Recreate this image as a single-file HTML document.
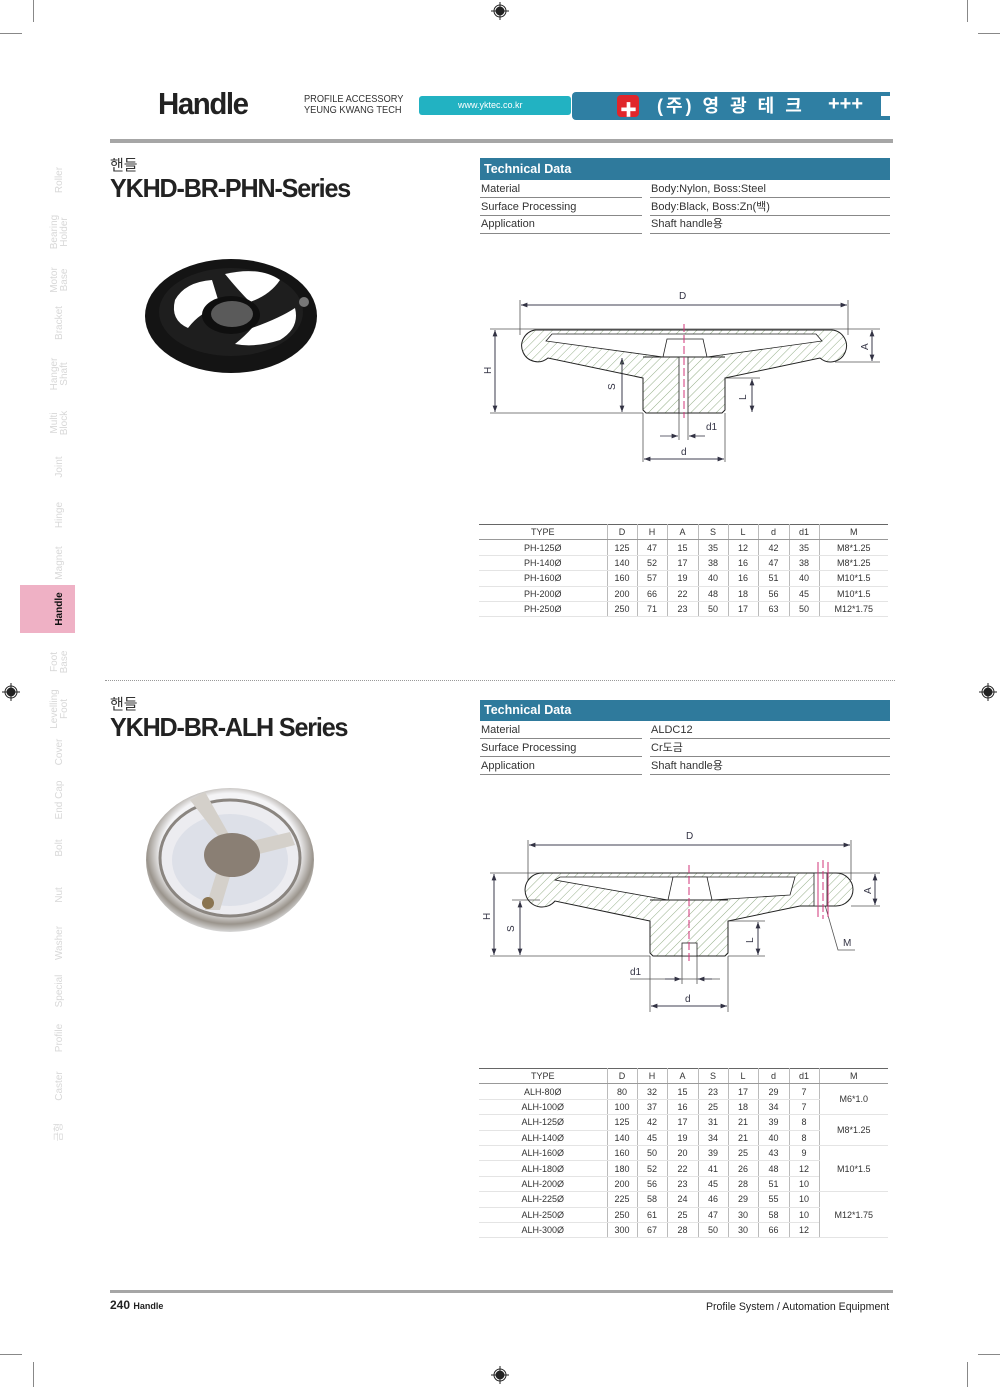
<!DOCTYPE html>
<html><head><meta charset="utf-8">
<style>
*{margin:0;padding:0;box-sizing:border-box}
body{width:1000px;height:1387px;position:relative;background:#fff;font-family:"Liberation Sans","Noto Sans CJK KR",sans-serif;color:#222;overflow:hidden}
.a{position:absolute;white-space:nowrap}
.tab{position:absolute;width:60px;left:30px;transform:rotate(-90deg);transform-origin:center;text-align:center;font-size:10px;line-height:10px;color:#d8d8d8}
table{border-collapse:collapse;position:absolute;font-size:9px;color:#333}
td{text-align:center;height:15.4px;border-left:1px solid #bbb;border-bottom:1px solid #e4e4e4;padding:0}
td:first-child{border-left:none}
tr.h td{border-bottom:1px solid #999}
.td{position:absolute;font-size:11px;line-height:14px;height:14px;color:#333}
.ul{position:absolute;height:1px;background:#888}
</style></head><body>
<!-- crop marks -->
<div class="a" style="left:33px;top:0;width:1px;height:22px;background:#888"></div>
<div class="a" style="left:967px;top:0;width:1px;height:22px;background:#888"></div>
<div class="a" style="left:0;top:33px;width:22px;height:1px;background:#888"></div>
<div class="a" style="left:978px;top:33px;width:22px;height:1px;background:#888"></div>
<div class="a" style="left:33px;top:1362px;width:1px;height:25px;background:#888"></div>
<div class="a" style="left:967px;top:1362px;width:1px;height:25px;background:#888"></div>
<div class="a" style="left:0;top:1354px;width:22px;height:1px;background:#888"></div>
<div class="a" style="left:978px;top:1354px;width:22px;height:1px;background:#888"></div>
<svg class="a" style="left:0;top:0" width="1000" height="1387">
<g fill="none" stroke="#222" stroke-width="1">
<circle cx="500" cy="11" r="6"/><circle cx="500" cy="11" r="4" fill="#222"/><line x1="491" y1="11" x2="509" y2="11"/><line x1="500" y1="2" x2="500" y2="20"/>
<circle cx="11" cy="692" r="6"/><circle cx="11" cy="692" r="4" fill="#222"/><line x1="2" y1="692" x2="20" y2="692"/><line x1="11" y1="683" x2="11" y2="701"/>
<circle cx="988" cy="692" r="6"/><circle cx="988" cy="692" r="4" fill="#222"/><line x1="979" y1="692" x2="997" y2="692"/><line x1="988" y1="683" x2="988" y2="701"/>
<circle cx="500" cy="1375" r="6"/><circle cx="500" cy="1375" r="4" fill="#222"/><line x1="491" y1="1375" x2="509" y2="1375"/><line x1="500" y1="1366" x2="500" y2="1384"/>
</g></svg>

<!-- header -->
<div class="a" style="left:158px;top:86px;font-size:31px;font-weight:bold;letter-spacing:-1.5px;transform:scaleX(0.95);transform-origin:left">Handle</div>
<div class="a" style="left:304px;top:94px;font-size:10.5px;line-height:11px;color:#333;transform:scaleX(0.88);transform-origin:left">PROFILE ACCESSORY<br>YEUNG KWANG TECH</div>
<div class="a" style="left:419px;top:96px;width:152px;height:19px;background:#22b2c2;border-radius:3px;color:#fff;font-size:9px;line-height:19px;padding-left:39px">www.yktec.co.kr</div>
<div class="a" style="left:572px;top:92px;width:318px;height:28px;background:#2f7fa3;border-radius:4px 0 0 4px"></div>
<div class="a" style="left:617px;top:95px;width:22px;height:22px;background:#e0262b;border-radius:4px"></div>
<div class="a" style="left:620px;top:96px;color:#fff;font-size:17px;font-weight:bold">✚</div>
<div class="a" style="left:657px;top:94px;color:#fff;font-size:18px;line-height:24px;font-weight:bold;letter-spacing:3px">(주) 영 광 테 크</div>
<div class="a" style="left:828px;top:93px;color:#fff;font-size:20px;font-weight:bold">+++</div>
<div class="a" style="left:881px;top:96px;width:9px;height:20px;background:#fff"></div>
<div class="a" style="left:110px;top:139px;width:783px;height:4px;background:#a6a6a6"></div>

<!-- side tabs -->
<div class="a" style="left:20px;top:585px;width:55px;height:48px;background:#efb1c5"></div>
<div class="tab" style="top:175px">Roller</div>
<div class="tab" style="top:222px">Bearing<br>Holder</div>
<div class="tab" style="top:270px">Motor<br>Base</div>
<div class="tab" style="top:318px">Bracket</div>
<div class="tab" style="top:364px">Hanger<br>Shaft</div>
<div class="tab" style="top:413px">Multi<br>Block</div>
<div class="tab" style="top:462px">Joint</div>
<div class="tab" style="top:510px">Hinge</div>
<div class="tab" style="top:558px">Magnet</div>
<div class="tab" style="top:604px;color:#111;font-weight:bold">Handle</div>
<div class="tab" style="top:652px">Foot<br>Base</div>
<div class="tab" style="top:699px">Levelling<br>Foot</div>
<div class="tab" style="top:747px">Cover</div>
<div class="tab" style="top:795px">End Cap</div>
<div class="tab" style="top:843px">Bolt</div>
<div class="tab" style="top:890px">Nut</div>
<div class="tab" style="top:938px">Washer</div>
<div class="tab" style="top:986px">Special</div>
<div class="tab" style="top:1033px">Profile</div>
<div class="tab" style="top:1081px">Caster</div>
<div class="tab" style="top:1127px">금형</div>

<!-- section 1 -->
<div class="a" style="left:110px;top:154px;font-size:15px;color:#333">핸들</div>
<div class="a" style="left:110px;top:173px;font-size:26px;font-weight:bold;letter-spacing:-1.2px;transform:scaleX(0.966);transform-origin:left">YKHD-BR-PHN-Series</div>
<div class="a" style="left:480px;top:158px;width:410px;height:22px;background:#2f7a9c;color:#fff;font-size:12.5px;font-weight:bold;line-height:22px;padding-left:4px">Technical Data</div>
<div class="td" style="left:481px;top:182px">Material</div><div class="td" style="left:651px;top:182px">Body:Nylon, Boss:Steel</div>
<div class="td" style="left:481px;top:200px">Surface Processing</div><div class="td" style="left:651px;top:200px">Body:Black, Boss:Zn(백)</div>
<div class="td" style="left:481px;top:217px">Application</div><div class="td" style="left:651px;top:217px">Shaft handle용</div>
<div class="ul" style="left:480px;top:197px;width:162px"></div><div class="ul" style="left:650px;top:197px;width:240px"></div>
<div class="ul" style="left:480px;top:215px;width:162px"></div><div class="ul" style="left:650px;top:215px;width:240px"></div>
<div class="ul" style="left:480px;top:233px;width:162px"></div><div class="ul" style="left:650px;top:233px;width:240px"></div>

<!-- wheel 1 photo -->
<svg class="a" style="left:130px;top:240px" width="200" height="150">
<ellipse cx="101" cy="76" rx="86" ry="57" fill="#141414"/>
<ellipse cx="101" cy="72" rx="72" ry="44" fill="#1e1e1e"/>
<path d="M45 60 Q55 42 82 40 L90 66 Q70 72 58 88 Q40 80 45 60Z" fill="#fff"/>
<path d="M95 34 Q130 26 150 40 Q140 55 120 62 Q108 50 95 34Z" fill="#fff"/>
<path d="M122 88 Q150 78 165 68 Q170 88 150 100 Q125 108 105 104 Q115 96 122 88Z" fill="#fff"/>
<ellipse cx="101" cy="75" rx="29" ry="19" fill="#0f0f0f"/>
<ellipse cx="102" cy="74" rx="21" ry="13" fill="#5a5a5a"/>
<circle cx="174" cy="62" r="5" fill="#777"/>
</svg>

<!-- diagram 1 -->
<svg class="a" style="left:0;top:0" width="1000" height="1387">
<defs>
<pattern id="h" width="6" height="6" patternUnits="userSpaceOnUse" patternTransform="rotate(45)"><line x1="0" y1="0" x2="0" y2="6" stroke="#7a9a6a" stroke-width="0.8"/></pattern>
<marker id="ar" markerWidth="8" markerHeight="6" refX="8" refY="3" orient="auto"><path d="M0 0L8 3L0 6z" fill="#334"/></marker>
</defs>
<g stroke="#555" stroke-width="0.8" fill="none">
<line x1="520" y1="300" x2="520" y2="335"/><line x1="848" y1="300" x2="848" y2="335"/>
<line x1="490" y1="329" x2="880" y2="329"/><line x1="490" y1="413" x2="643" y2="413"/>
<line x1="835" y1="362" x2="880" y2="362"/><line x1="725" y1="378" x2="760" y2="378"/>
<line x1="643" y1="413" x2="643" y2="462"/><line x1="725" y1="413" x2="725" y2="462"/>
<line x1="679" y1="413" x2="679" y2="440"/><line x1="688" y1="413" x2="688" y2="440"/>
</g>
<g stroke="#334" stroke-width="0.8" fill="none">
<line x1="521" y1="305" x2="847" y2="305" marker-end="url(#ar)"/><line x1="847" y1="305" x2="521" y2="305" marker-end="url(#ar)"/>
<line x1="495" y1="330" x2="495" y2="412" marker-end="url(#ar)"/><line x1="495" y1="412" x2="495" y2="330" marker-end="url(#ar)"/>
<line x1="872" y1="330" x2="872" y2="361" marker-end="url(#ar)"/><line x1="872" y1="361" x2="872" y2="330" marker-end="url(#ar)"/>
<line x1="622" y1="358" x2="622" y2="412" marker-end="url(#ar)"/><line x1="622" y1="412" x2="622" y2="358" marker-end="url(#ar)"/>
<line x1="752" y1="379" x2="752" y2="412" marker-end="url(#ar)"/><line x1="752" y1="412" x2="752" y2="379" marker-end="url(#ar)"/>
<line x1="644" y1="459" x2="724" y2="459" marker-end="url(#ar)"/><line x1="724" y1="459" x2="644" y2="459" marker-end="url(#ar)"/>
<line x1="660" y1="436" x2="678" y2="436" marker-end="url(#ar)"/><line x1="705" y1="436" x2="689" y2="436" marker-end="url(#ar)"/>
</g>
<path d="M535 330 L832 330 A16 16 0 1 1 820 358 L725 378 L725 410 L722 413 L646 413 L643 410 L643 378 L548 358 A16 16 0 1 1 535 330Z" fill="url(#h)" stroke="#222" stroke-width="1"/>
<path d="M552 334 L816 334 L822 341 L707 357 L663 357 L546 341Z" fill="#fff" stroke="#222" stroke-width="0.8"/>
<path d="M667 339 L703 339 L707 357 L663 357Z" fill="#fff" stroke="#222" stroke-width="0.8"/>
<line x1="643" y1="357" x2="725" y2="357" stroke="#222"/>
<rect x="679" y="357" width="9" height="56" fill="#fff" stroke="#222" stroke-width="0.8"/>
<line x1="684" y1="324" x2="684" y2="418" stroke="#d2347a" stroke-width="1" stroke-dasharray="8 3"/>
<g font-size="10" fill="#334" font-family="Liberation Sans,sans-serif">
<text x="679" y="299">D</text><text x="681" y="455">d</text><text x="706" y="430">d1</text>
<text transform="translate(491,374) rotate(-90)">H</text><text transform="translate(868,350) rotate(-90)">A</text>
<text transform="translate(615,390) rotate(-90)">S</text><text transform="translate(746,400) rotate(-90)">L</text>
</g>
</svg>

<table style="left:479px;top:524px;width:409px;border-top:1.5px solid #666;border-bottom:1.5px solid #666">
<colgroup><col style="width:128px"><col style="width:30px"><col style="width:30px"><col style="width:31px"><col style="width:30px"><col style="width:30px"><col style="width:31px"><col style="width:30px"><col></colgroup>
<tr class="h"><td>TYPE</td><td>D</td><td>H</td><td>A</td><td>S</td><td>L</td><td>d</td><td>d1</td><td>M</td></tr>
<tr><td>PH-125Ø</td><td>125</td><td>47</td><td>15</td><td>35</td><td>12</td><td>42</td><td>35</td><td>M8*1.25</td></tr>
<tr><td>PH-140Ø</td><td>140</td><td>52</td><td>17</td><td>38</td><td>16</td><td>47</td><td>38</td><td>M8*1.25</td></tr>
<tr><td>PH-160Ø</td><td>160</td><td>57</td><td>19</td><td>40</td><td>16</td><td>51</td><td>40</td><td>M10*1.5</td></tr>
<tr><td>PH-200Ø</td><td>200</td><td>66</td><td>22</td><td>48</td><td>18</td><td>56</td><td>45</td><td>M10*1.5</td></tr>
<tr><td>PH-250Ø</td><td>250</td><td>71</td><td>23</td><td>50</td><td>17</td><td>63</td><td>50</td><td>M12*1.75</td></tr>
</table>

<div class="a" style="left:105px;top:680px;width:790px;border-top:1px dotted #999"></div>

<!-- section 2 -->
<div class="a" style="left:110px;top:693px;font-size:15px;color:#333">핸들</div>
<div class="a" style="left:110px;top:712px;font-size:26px;font-weight:bold;letter-spacing:-1.2px;transform:scaleX(0.966);transform-origin:left">YKHD-BR-ALH Series</div>
<div class="a" style="left:480px;top:700px;width:410px;height:21px;background:#2f7a9c;color:#fff;font-size:12.5px;font-weight:bold;line-height:21px;padding-left:4px">Technical Data</div>
<div class="td" style="left:481px;top:723px">Material</div><div class="td" style="left:651px;top:723px">ALDC12</div>
<div class="td" style="left:481px;top:741px">Surface Processing</div><div class="td" style="left:651px;top:741px">Cr도금</div>
<div class="td" style="left:481px;top:759px">Application</div><div class="td" style="left:651px;top:759px">Shaft handle용</div>
<div class="ul" style="left:480px;top:738px;width:162px"></div><div class="ul" style="left:650px;top:738px;width:240px"></div>
<div class="ul" style="left:480px;top:756px;width:162px"></div><div class="ul" style="left:650px;top:756px;width:240px"></div>
<div class="ul" style="left:480px;top:774px;width:162px"></div><div class="ul" style="left:650px;top:774px;width:240px"></div>

<!-- wheel 2 photo -->
<svg class="a" style="left:130px;top:760px" width="200" height="180">
<defs><radialGradient id="cr" cx="50%" cy="45%" r="55%"><stop offset="0.75" stop-color="#f4f4f6"/><stop offset="0.9" stop-color="#9a948c"/><stop offset="1" stop-color="#d8d8d8"/></radialGradient></defs>
<ellipse cx="100" cy="100" rx="84" ry="72" fill="url(#cr)"/>
<ellipse cx="100" cy="98" rx="70" ry="58" fill="#ececf0" stroke="#8a8580" stroke-width="3"/>
<ellipse cx="100" cy="100" rx="58" ry="46" fill="#dde0e8"/>
<path d="M60 40 L95 85 L75 150 L90 150 L105 100 L165 85 L160 72 L105 85 L75 32Z" fill="#d4d0ca"/>
<ellipse cx="102" cy="95" rx="28" ry="22" fill="#8a7f74"/>
<circle cx="78" cy="143" r="6" fill="#8a7450"/>
</svg>

<!-- diagram 2 -->
<svg class="a" style="left:0;top:0" width="1000" height="1387">
<defs>
<pattern id="h2" width="6" height="6" patternUnits="userSpaceOnUse" patternTransform="rotate(45)"><line x1="0" y1="0" x2="0" y2="6" stroke="#7a9a6a" stroke-width="0.8"/></pattern>
<marker id="ar2" markerWidth="8" markerHeight="6" refX="8" refY="3" orient="auto"><path d="M0 0L8 3L0 6z" fill="#334"/></marker>
</defs>
<g stroke="#555" stroke-width="0.8" fill="none">
<line x1="528" y1="840" x2="528" y2="880"/><line x1="851" y1="840" x2="851" y2="880"/>
<line x1="490" y1="873" x2="880" y2="873"/><line x1="851" y1="906" x2="880" y2="906"/>
<line x1="490" y1="956" x2="650" y2="956"/><line x1="512" y1="900" x2="540" y2="900"/>
<line x1="728" y1="921" x2="765" y2="921"/><line x1="728" y1="956" x2="765" y2="956"/>
<line x1="650" y1="956" x2="650" y2="1012"/><line x1="728" y1="956" x2="728" y2="1012"/>
<line x1="682" y1="956" x2="682" y2="984"/><line x1="697" y1="956" x2="697" y2="984"/>
<line x1="630" y1="979" x2="720" y2="979"/>
<polyline points="825,905 838,950 855,950"/>
</g>
<g stroke="#334" stroke-width="0.8" fill="none">
<line x1="529" y1="845" x2="850" y2="845" marker-end="url(#ar2)"/><line x1="850" y1="845" x2="529" y2="845" marker-end="url(#ar2)"/>
<line x1="494" y1="874" x2="494" y2="955" marker-end="url(#ar2)"/><line x1="494" y1="955" x2="494" y2="874" marker-end="url(#ar2)"/>
<line x1="520" y1="901" x2="520" y2="955" marker-end="url(#ar2)"/><line x1="520" y1="955" x2="520" y2="901" marker-end="url(#ar2)"/>
<line x1="875" y1="874" x2="875" y2="905" marker-end="url(#ar2)"/><line x1="875" y1="905" x2="875" y2="874" marker-end="url(#ar2)"/>
<line x1="758" y1="922" x2="758" y2="955" marker-end="url(#ar2)"/><line x1="758" y1="955" x2="758" y2="922" marker-end="url(#ar2)"/>
<line x1="651" y1="1006" x2="727" y2="1006" marker-end="url(#ar2)"/><line x1="727" y1="1006" x2="651" y2="1006" marker-end="url(#ar2)"/>
<line x1="665" y1="979" x2="681" y2="979" marker-end="url(#ar2)"/><line x1="712" y1="979" x2="698" y2="979" marker-end="url(#ar2)"/>
</g>
<path d="M542 873 L836 873 A17 16.5 0 0 1 836 906 L800 906 L728 921 L728 953 L725 956 L653 956 L650 953 L650 921 L555 901 A17 17 0 1 1 542 873Z" fill="url(#h2)" stroke="#222" stroke-width="1"/>
<path d="M560 877 L795 877 L790 895 L712 900 L668 900 L555 880Z" fill="#fff" stroke="#222" stroke-width="0.8"/>
<path d="M673 877 L707 877 L712 900 L668 900Z" fill="#fff" stroke="#222" stroke-width="0.8"/>
<line x1="650" y1="900" x2="728" y2="900" stroke="#222"/>
<rect x="682" y="943" width="15" height="13" fill="#fff" stroke="#222" stroke-width="0.8"/>
<rect x="814" y="873" width="13" height="33" fill="#fff" stroke="#222" stroke-width="0.8"/>
<line x1="689" y1="865" x2="689" y2="963" stroke="#d2347a" stroke-dasharray="8 3"/>
<line x1="818" y1="862" x2="818" y2="917" stroke="#d2347a"/><line x1="823" y1="860" x2="823" y2="919" stroke="#d2347a" stroke-dasharray="8 3"/><line x1="828" y1="862" x2="828" y2="917" stroke="#d2347a"/>
<g font-size="10" fill="#334" font-family="Liberation Sans,sans-serif">
<text x="686" y="839">D</text><text x="685" y="1002">d</text><text x="630" y="975">d1</text><text x="843" y="946">M</text>
<text transform="translate(490,920) rotate(-90)">H</text><text transform="translate(514,932) rotate(-90)">S</text>
<text transform="translate(871,894) rotate(-90)">A</text><text transform="translate(753,943) rotate(-90)">L</text>
</g>
</svg>

<table style="left:479px;top:1068px;width:409px;border-top:1.5px solid #666;border-bottom:1.5px solid #666">
<colgroup><col style="width:128px"><col style="width:30px"><col style="width:30px"><col style="width:31px"><col style="width:30px"><col style="width:30px"><col style="width:31px"><col style="width:30px"><col></colgroup>
<tr class="h"><td>TYPE</td><td>D</td><td>H</td><td>A</td><td>S</td><td>L</td><td>d</td><td>d1</td><td>M</td></tr>
<tr><td>ALH-80Ø</td><td>80</td><td>32</td><td>15</td><td>23</td><td>17</td><td>29</td><td>7</td><td rowspan="2">M6*1.0</td></tr>
<tr><td>ALH-100Ø</td><td>100</td><td>37</td><td>16</td><td>25</td><td>18</td><td>34</td><td>7</td></tr>
<tr><td>ALH-125Ø</td><td>125</td><td>42</td><td>17</td><td>31</td><td>21</td><td>39</td><td>8</td><td rowspan="2">M8*1.25</td></tr>
<tr><td>ALH-140Ø</td><td>140</td><td>45</td><td>19</td><td>34</td><td>21</td><td>40</td><td>8</td></tr>
<tr><td>ALH-160Ø</td><td>160</td><td>50</td><td>20</td><td>39</td><td>25</td><td>43</td><td>9</td><td rowspan="3">M10*1.5</td></tr>
<tr><td>ALH-180Ø</td><td>180</td><td>52</td><td>22</td><td>41</td><td>26</td><td>48</td><td>12</td></tr>
<tr><td>ALH-200Ø</td><td>200</td><td>56</td><td>23</td><td>45</td><td>28</td><td>51</td><td>10</td></tr>
<tr><td>ALH-225Ø</td><td>225</td><td>58</td><td>24</td><td>46</td><td>29</td><td>55</td><td>10</td><td rowspan="3">M12*1.75</td></tr>
<tr><td>ALH-250Ø</td><td>250</td><td>61</td><td>25</td><td>47</td><td>30</td><td>58</td><td>10</td></tr>
<tr><td>ALH-300Ø</td><td>300</td><td>67</td><td>28</td><td>50</td><td>30</td><td>66</td><td>12</td></tr>
</table>

<!-- footer -->
<div class="a" style="left:110px;top:1290px;width:783px;height:3px;background:#a6a6a6"></div>
<div class="a" style="left:110px;top:1298px;font-size:12px;font-weight:bold">240 <span style="font-size:9px">Handle</span></div>
<div class="a" style="left:706px;top:1301px;font-size:11px;color:#222;transform:scaleX(0.96);transform-origin:left">Profile System / Automation Equipment</div>
</body></html>
